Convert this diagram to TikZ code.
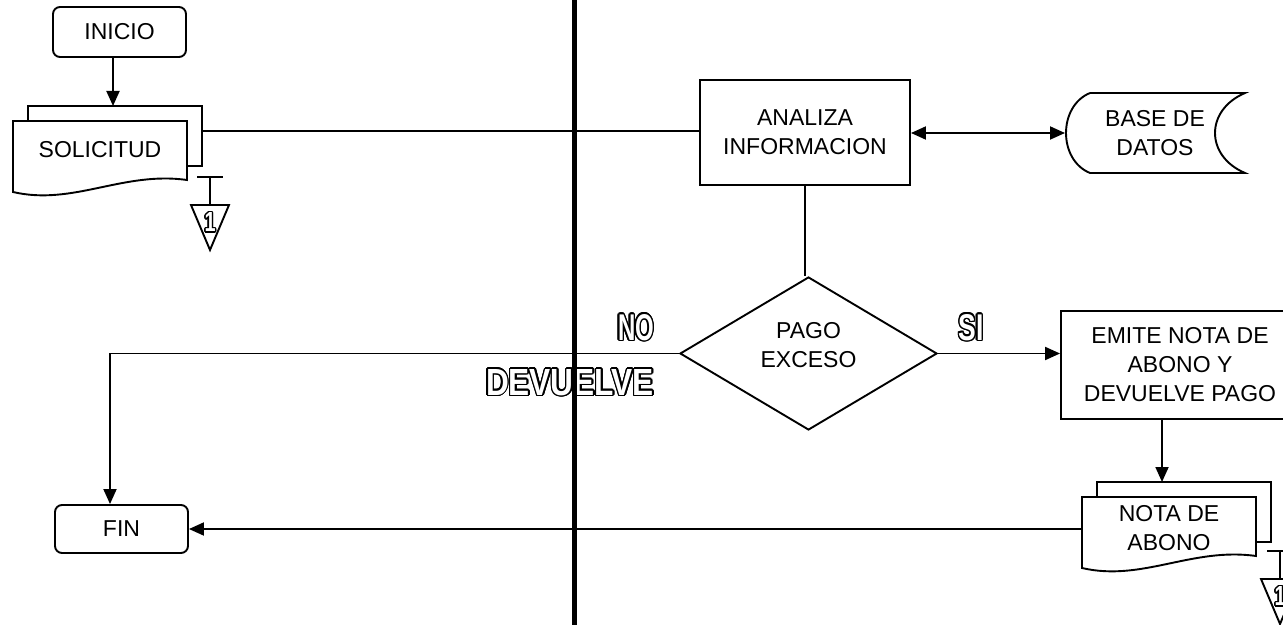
\documentclass[tikz,border=0pt]{standalone}
\usepackage{fontspec}
\setmainfont{Liberation Sans}
\usepackage{contour}
\contourlength{0.7pt}
\usetikzlibrary{shapes.geometric,arrows.meta}

\tikzset{
  >={Triangle[length=7.5pt,width=6.5pt]},
  linea/.style={line width=0.95pt},
  flecha/.style={linea,->},
  terminal/.style={draw,linea,rounded corners=3.5pt,minimum width=66.5pt,inner sep=0pt},
  proceso/.style={draw,linea,align=center,inner sep=0pt},
  decision/.style={draw,linea,diamond,align=center,inner sep=0pt,minimum width=128.5pt,minimum height=76.5pt},
  hueca/.style={text=white,inner sep=0pt}
}

% texto hueco (contorno negro, relleno blanco)
\newcommand{\hueco}[3]{\contour{black}{\resizebox{#2}{#3}{\bfseries #1}}}

% documento doble, #1,#2 = esquina superior izquierda de la hoja delantera
\newcommand{\hojas}[2]{%
  \draw[linea,fill=white] (#1+15,#2-15) rectangle (#1+189,#2+45);
  \draw[linea,fill=white] (#1,#2) -- (#1+174,#2) -- (#1+174,#2+59)
    .. controls (#1+110,#2+50) and (#1+60,#2+85) .. (#1,#2+71) -- cycle;
}

% conector de pagina, #1 = x, #2 = y de la barra, #3 = nombre
\newcommand{\conector}[3]{%
  \draw[linea] (#1-13,#2) -- (#1+13,#2);
  \draw[linea] (#1,#2) -- (#1,#2+28);
  \draw[linea] (#1-19,#2+28) -- (#1+19,#2+28) -- (#1,#2+73) -- cycle;
  \node[hueca] (#3) at (#1,#2+46) {\hueco{1}{5.5pt}{9.5pt}};
}

\begin{document}
\begin{tikzpicture}[x=0.5pt,y=-0.5pt,font=\fontsize{11.5}{14.5}\selectfont]

\useasboundingbox (0,0) rectangle (1283,625);

\node[terminal,minimum height=25pt]
(I)
at (119.5,32)
{INICIO};

\node[terminal,minimum height=24pt]
(F)
at (121.5,529)
{FIN};

\hojas{13}{121}
\node
(S)
at (100,150)
{SOLICITUD};
\coordinate (St) at (113,106);
\coordinate (Sr) at (202,131);

\conector{210}{177}{C1}

\node[proceso,minimum width=105pt,minimum height=52.5pt]
(A)
at (805,132.5)
{ANALIZA\\INFORMACION};

% base de datos
\draw[linea] (1090,93) -- (1245,93)
  .. controls (1205,110) and (1205,156) .. (1245,173)
  -- (1090,173)
  .. controls (1058,160) and (1058,106) .. (1090,93);
\node[align=center]
(B)
at (1155,133)
{BASE DE\\DATOS};
\coordinate (Bw) at (1065,133);

\node[decision]
(P)
at (808.5,353.5)
{};
\node[align=center]
(Pt)
at (808.5,345)
{PAGO\\EXCESO};

\node[proceso,minimum width=119pt,minimum height=54pt]
(E)
at (1180,365)
{EMITE NOTA DE\\ABONO Y\\DEVUELVE PAGO};

\hojas{1082}{497}
\node[align=center]
(N)
at (1169,528)
{NOTA DE\\ABONO};
\coordinate (Nt) at (1162,482);
\coordinate (Nl) at (1082,529);

\conector{1280}{551}{C2}

\node[hueca] (NO) at (636,328) {\hueco{NO}{18pt}{13pt}};
\node[hueca] (SI) at (971,328) {\hueco{SI}{12.5pt}{13pt}};
\node[hueca] (DV) at (570,383) {\hueco{DEVUELVE}{84pt}{13pt}};

\draw[flecha] (I.south -| St) -- (St);
\draw[linea] (Sr) -- (A.west |- Sr);
\draw[linea,<->] (A.east |- Bw) -- (Bw);
\draw[linea] (A.south) -- (A.south |- P.north);
\draw[flecha] (P.west) -| ([xshift=-5.75pt]F.north);
\draw[flecha] (P.east) -- (E.west |- P.east);
\draw[flecha] (E.south -| Nt) -- (Nt);
\draw[flecha] (Nl) -- (F.east);

% separador
\draw[line width=2.5pt] (574,0) -- (574,625);

\end{tikzpicture}
\end{document}
